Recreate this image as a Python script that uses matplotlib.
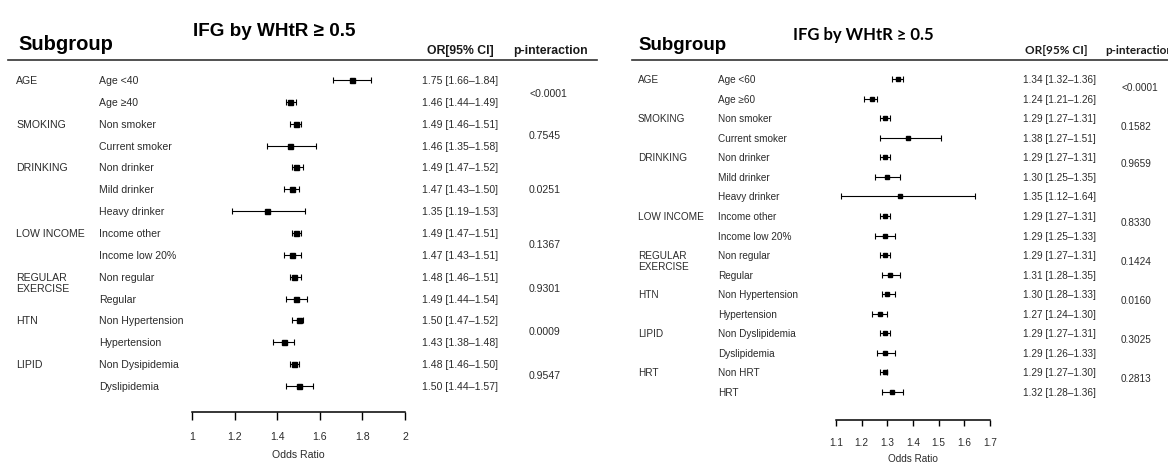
import numpy as np
import matplotlib
matplotlib.use("Agg")
import matplotlib.pyplot as plt
from matplotlib.lines import Line2D
from matplotlib.transforms import blended_transform_factory
from matplotlib.ticker import FormatStrFormatter

# ---- left chart data ----
left_groups = ["AGE", "SMOKING", "DRINKING", "LOW INCOME", "REGULAR\nEXERCISE", "HTN", "LIPID"]
left_group_rows = [0, 2, 4, 7, 9, 11, 13]
left_labels = ["Age <40", "Age \u226540", "Non smoker", "Current smoker", "Non drinker",
               "Mild drinker", "Heavy drinker", "Income other", "Income low 20%",
               "Non regular", "Regular", "Non Hypertension", "Hypertension",
               "Non Dysipidemia", "Dyslipidemia"]
left_or = [1.75, 1.46, 1.49, 1.46, 1.49, 1.47, 1.35, 1.49, 1.47, 1.48, 1.49, 1.50, 1.43, 1.48, 1.50]
left_lo = [1.66, 1.44, 1.46, 1.35, 1.47, 1.43, 1.19, 1.47, 1.43, 1.46, 1.44, 1.47, 1.38, 1.46, 1.44]
left_hi = [1.84, 1.49, 1.51, 1.58, 1.52, 1.50, 1.53, 1.51, 1.51, 1.51, 1.54, 1.52, 1.48, 1.50, 1.57]
left_p = ["<0.0001", "0.7545", "0.0251", "0.1367", "0.9301", "0.0009", "0.9547"]
left_p_rows = [0.6, 2.5, 5, 7.5, 9.5, 11.5, 13.5]
left_ticks = [1, 1.2, 1.4, 1.6, 1.8, 2]

# ---- right chart data ----
right_groups = ["AGE", "SMOKING", "DRINKING", "LOW INCOME", "REGULAR\nEXERCISE", "HTN", "LIPID", "HRT"]
right_group_rows = [0, 2, 4, 7, 9, 11, 13, 15]
right_labels = ["Age <60", "Age \u226560", "Non smoker", "Current smoker", "Non drinker",
                "Mild drinker", "Heavy drinker", "Income other", "Income low 20%",
                "Non regular", "Regular", "Non Hypertension", "Hypertension",
                "Non Dyslipidemia", "Dyslipidemia", "Non HRT", "HRT"]
right_or = [1.34, 1.24, 1.29, 1.38, 1.29, 1.30, 1.35, 1.29, 1.29, 1.29, 1.31, 1.30, 1.27, 1.29, 1.29, 1.29, 1.32]
right_lo = [1.32, 1.21, 1.27, 1.27, 1.27, 1.25, 1.12, 1.27, 1.25, 1.27, 1.28, 1.28, 1.24, 1.27, 1.26, 1.27, 1.28]
right_hi = [1.36, 1.26, 1.31, 1.51, 1.31, 1.35, 1.64, 1.31, 1.33, 1.31, 1.35, 1.33, 1.30, 1.31, 1.33, 1.30, 1.36]
right_p = ["<0.0001", "0.1582", "0.9659", "0.8330", "0.1424", "0.0160", "0.3025", "0.2813"]
right_p_rows = [0.4, 2.4, 4.3, 7.3, 9.3, 11.3, 13.3, 15.3]
right_ticks = [1.1, 1.2, 1.3, 1.4, 1.5, 1.6, 1.7]

title = "IFG by WHtR \u2265 0.5"

W, H = 1168, 464
TXT = "#2b2b2b"
fig = plt.figure(figsize=(W / 100, H / 100), dpi=100)
fig.patch.set_facecolor("white")


def draw_panel(cfg):
    s = cfg["step"]
    r0 = cfg["row0"]
    ax = fig.add_axes([cfg["ax_l"] / W, 0, (cfg["ax_r"] - cfg["ax_l"]) / W, 1])
    ax.patch.set_visible(False)
    ax.set_xlim(cfg["xlim"])
    ax.set_ylim((H - r0) / s, -r0 / s)

    orv = np.array(cfg["or"])
    lo = np.array(cfg["lo"])
    hi = np.array(cfg["hi"])
    rows = np.arange(len(orv))
    ax.errorbar(orv, rows, xerr=[orv - lo, hi - orv], fmt="s", color="black",
                ms=cfg["ms"], elinewidth=0.8, capsize=2.2, capthick=0.8)

    for side in ["top", "left", "right"]:
        ax.spines[side].set_visible(False)
    axis_row = (cfg["axis_px"] - r0) / s
    ax.spines["bottom"].set_position(("data", axis_row))
    ax.spines["bottom"].set_bounds(*cfg["xlim"])
    ax.spines["bottom"].set_linewidth(1.1)
    ax.set_yticks([])
    ax.set_xticks(cfg["ticks"])
    ax.xaxis.set_major_formatter(FormatStrFormatter("%g"))
    ax.tick_params(axis="x", direction="out", length=cfg["tick_len"], width=1.0,
                   pad=cfg["tick_pad"], labelsize=cfg["fs"], labelcolor=TXT)
    for lab in ax.get_xticklabels():
        lab.set_fontfamily("Liberation Sans")
    ax.text(np.mean(cfg["xlim"]), (cfg["xlabel_px"] - r0) / s, "Odds Ratio",
            ha="center", va="center", fontsize=cfg["fs"], color=TXT,
            family="Liberation Sans")

    tr = blended_transform_factory(fig.transFigure, ax.transData)
    body = dict(va="center", fontsize=cfg["fs"], color=TXT, family="Liberation Sans",
                transform=tr)
    for g, r in zip(cfg["groups"], cfg["group_rows"]):
        for k, line in enumerate(g.split("\n")):
            ax.text(cfg["col1"] / W, r + k * 11 / s, line, **body)
    for r, lab in enumerate(cfg["labels"]):
        ax.text(cfg["col2"] / W, r, lab, **body)
    for r, (o, l, h) in enumerate(zip(orv, lo, hi)):
        ax.text(cfg["col_or"] / W, r, f"{o:.2f} [{l:.2f}\u2013{h:.2f}]", **body)
    for p, r in zip(cfg["p"], cfg["p_rows"]):
        ax.text(cfg["col_p"] / W, r, p, **body)

    # header row
    fig.text(cfg["sub_x"] / W, 1 - cfg["sub_y"] / H, "Subgroup", fontsize=cfg["sub_fs"],
             fontweight="bold", va="center", family="Liberation Sans", color="black")
    fig.text(cfg["title_x"] / W, 1 - cfg["title_y"] / H, title, fontsize=cfg["title_fs"],
             fontweight="bold", va="center", family=cfg["head_font"], color="black")
    fig.text(cfg["hor_x"] / W, 1 - cfg["head_y"] / H, "OR[95% CI]", fontsize=cfg["head_fs"],
             fontweight="bold", va="center", family=cfg["head_font"], color="#1a1a1a")
    fig.text(cfg["hp_x"] / W, 1 - cfg["head_y"] / H, "p-interaction", fontsize=cfg["head_fs"],
             fontweight="bold", va="center", family=cfg["head_font"], color="#1a1a1a")
    fig.add_artist(Line2D([cfg["line"][0] / W, cfg["line"][1] / W], [1 - 61 / H, 1 - 61 / H],
                          transform=fig.transFigure, color="#333333", lw=1.2))


draw_panel(dict(
    groups=left_groups, group_rows=left_group_rows, labels=left_labels,
    **{"or": left_or}, lo=left_lo, hi=left_hi, p=left_p, p_rows=left_p_rows,
    ticks=left_ticks, xlim=(1, 2), ax_l=192, ax_r=405, row0=81, step=(387 - 81) / 14,
    axis_px=413, xlabel_px=455, tick_len=6, tick_pad=8, fs=7.6, ms=3.6,
    col1=16, col2=99, col_or=422, col_p=529,
    sub_x=18, sub_y=45, sub_fs=14.5, title_x=193, title_y=32, title_fs=13.6,
    hor_x=427, hp_x=513, head_y=51, head_fs=8.8, head_font=["Liberation Sans", "DejaVu Sans"],
    line=(8, 597),
))

draw_panel(dict(
    groups=right_groups, group_rows=right_group_rows, labels=right_labels,
    **{"or": right_or}, lo=right_lo, hi=right_hi, p=right_p, p_rows=right_p_rows,
    ticks=right_ticks, xlim=(1.1, 1.7), ax_l=836, ax_r=990, row0=80, step=(393 - 80) / 16,
    axis_px=421, xlabel_px=459, tick_len=4.5, tick_pad=7.5, fs=7.2, ms=3.3,
    col1=638, col2=718, col_or=1023, col_p=1121,
    sub_x=638, sub_y=46, sub_fs=13.5, title_x=793, title_y=35, title_fs=12,
    hor_x=1025, hp_x=1105, head_y=50, head_fs=8.5, head_font=["Lato", "DejaVu Sans"],
    line=(632, 1168),
))

fig.savefig("out.png", dpi=100, facecolor="white")
